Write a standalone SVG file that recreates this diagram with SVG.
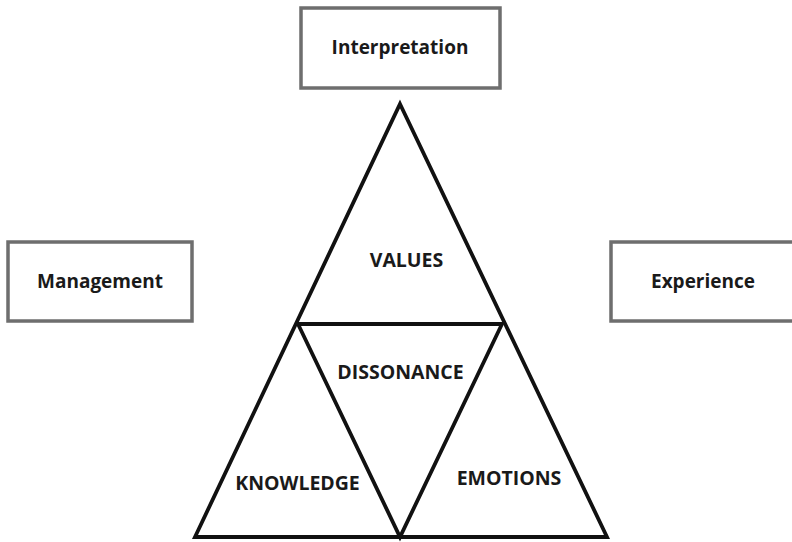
<svg xmlns="http://www.w3.org/2000/svg" width="792" height="542" viewBox="0 0 792 542">
<style>
.box{fill:#fff;stroke:#6e6e6e;stroke-width:3.5}
.tri{fill:none;stroke:#111;stroke-width:3.8;stroke-linejoin:miter}
.lbl{font-family:"Open Sans","Liberation Sans",sans-serif;font-weight:bold;fill:#1a1a1a;text-anchor:middle}
.bx{font-size:19px}
.tr{font-size:19.5px}
</style>
<rect width="792" height="542" fill="#fff"/>
<g id="interpretation">
<rect class="box" x="301" y="8" width="199" height="80"/>
<text class="lbl bx" x="400" y="54">Interpretation</text>
</g>
<g id="management">
<rect class="box" x="8" y="242" width="184" height="79"/>
<text class="lbl bx" x="100" y="288">Management</text>
</g>
<g id="experience">
<rect class="box" x="611" y="242" width="190" height="79"/>
<text class="lbl bx" x="703" y="288">Experience</text>
</g>
<g id="connectors">
<polygon class="tri" points="400,104 607,537 195,537"/>
<polygon class="tri" points="298,324 502,324 400,537"/>
</g>
<g id="values"><text class="lbl tr" x="406.5" y="267">VALUES</text></g>
<g id="dissonance"><text class="lbl tr" x="400.5" y="379">DISSONANCE</text></g>
<g id="knowledge"><text class="lbl tr" x="297.5" y="490">KNOWLEDGE</text></g>
<g id="emotions"><text class="lbl tr" x="509" y="485">EMOTIONS</text></g>
</svg>
